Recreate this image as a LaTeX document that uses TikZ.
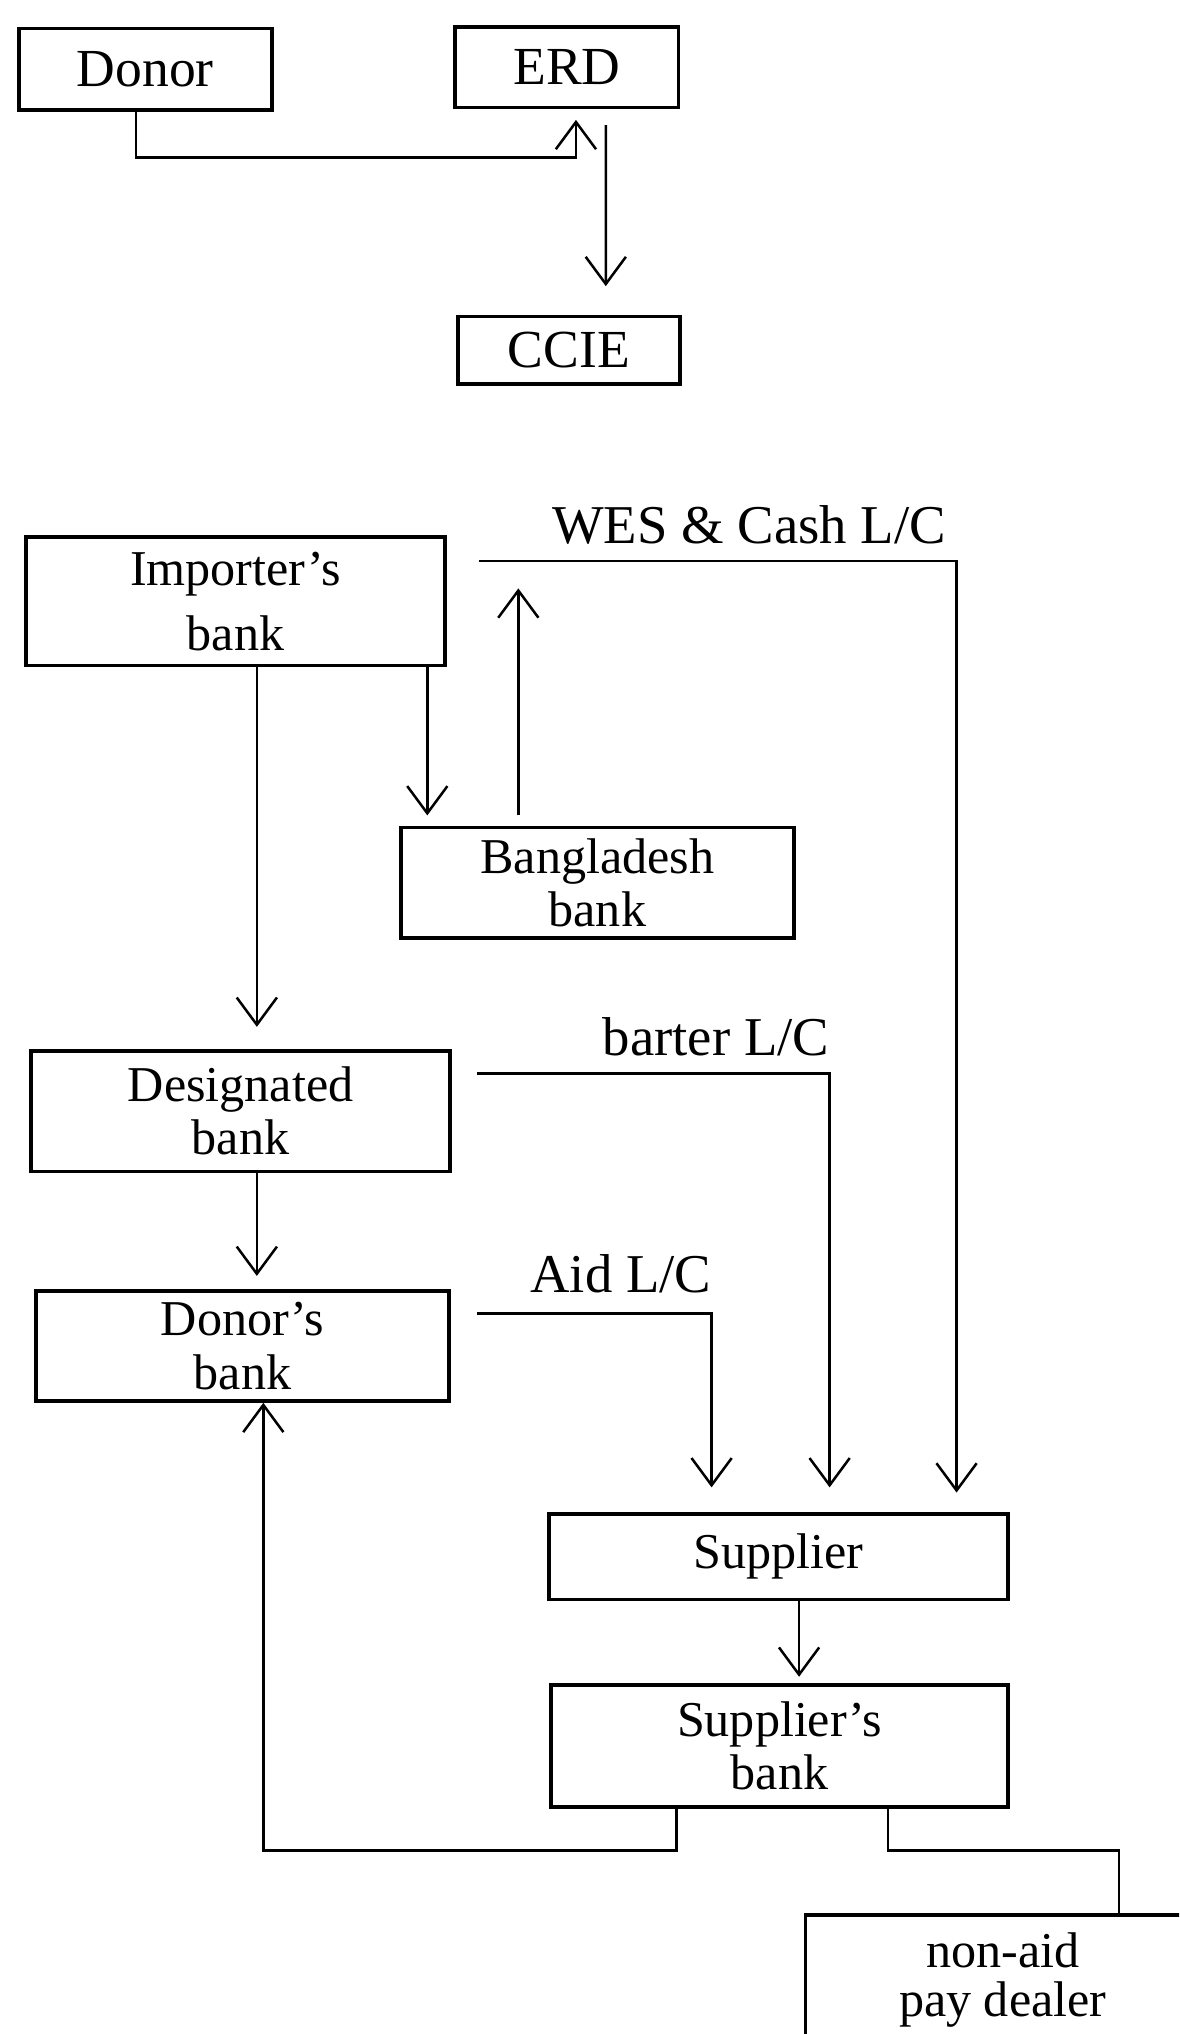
\documentclass[tikz,border=0pt]{standalone}
\usepackage{fontspec}
\setmainfont{Liberation Serif}
\usetikzlibrary{arrows.meta}

\tikzset{
  box/.style={draw, line width=1.6pt, align=center, inner sep=0pt, font=\fontsize{22}{23.5}\selectfont},
  big/.style={box, font=\fontsize{23.5}{25}\selectfont},
  lbl/.style={inner sep=0pt, font=\fontsize{24}{26}\selectfont},
  arr/.style={line width=1.1pt, -{Straight Barb[length=0.42cm, width=0.62cm]}},
  lin/.style={line width=1.1pt},
}

\begin{document}
\begin{tikzpicture}[x=0.02cm, y=-0.02cm]
    \useasboundingbox (0,0) rectangle (909,1568);
    \clip (0,0) rectangle (909,1568);

    % Caselle
    \foreach \nome/\stile/\x/\y/\w/\h/\testo in {
        donor/big/112/53.5/195/63/Donor,
        erd/big/437/52/172/62/ERD,
        ccie/big/438.5/270/171/52/CCIE,
        impbank/box/181.5/463.5/323/99/Importer's\\[5pt]bank,
        bdbank/box/460.5/680.5/303/85/Bangladesh\\bank,
        desbank/box/185.5/856.5/323/93/Designated\\bank,
        donbank/box/187/1037.5/318/85/Donor's\\bank,
        supp/box/600/1200/354/66/Supplier,
        suppbank/box/601/1346/352/94/Supplier's\\bank,
        nonaid/box/773/1526/304/100/non-aid\\[-2pt]pay dealer} {
            \node[\stile, minimum width=\w*0.02cm, minimum height=\h*0.02cm] (\nome) at (\x,\y) {\testo};
        }

    % Punti di appoggio
    \coordinate (wesa) at ([xshift=0.5cm, yshift=-0.4cm]impbank.north east);
    \coordinate (wesd) at ([xshift=-0.82cm]supp.north east);
    \coordinate (wesk) at (wesd |- wesa);
    \coordinate (bara) at ([xshift=0.38cm, yshift=-0.38cm]desbank.north east);
    \coordinate (bard) at ([xshift=4.36cm]supp.north west);
    \coordinate (bark) at (bard |- bara);
    \coordinate (aida) at ([xshift=0.4cm, yshift=-0.38cm]donbank.north east);
    \coordinate (aidd) at ([xshift=2.54cm]supp.north west);
    \coordinate (aidk) at (aidd |- aida);
    \coordinate (ib) at ([xshift=-0.3cm]impbank.south east);
    \coordinate (bb) at ([xshift=1.84cm]bdbank.north west);
    \coordinate (ia) at ([xshift=0.33cm]impbank.south);
    \coordinate (da) at ([xshift=0.25cm]desbank.south);
    \coordinate (sa) at ([xshift=0.32cm]supp.south);
    \coordinate (sd) at ([xshift=0.32cm]donbank.south);

    % Frecce
    \draw[arr, shorten >=0.16cm] ([xshift=-0.14cm]donor.south) -- ++(0,35) -| ([xshift=0.14cm]erd.south);
    \draw[arr, shorten <=0.24cm, shorten >=0.44cm] ([xshift=0.6cm]erd.south) -- ([xshift=0.57cm]ccie.north);
    \draw[arr, shorten >=0.16cm] (ib) -- (ib |- bdbank.north);
    \draw[arr, shorten <=0.16cm, shorten >=0.42cm] (bb) -- (bb |- wesa);
    \draw[arr, shorten >=0.3cm] (wesa) -- (wesk) -- (wesd);
    \draw[arr, shorten >=0.34cm] (ia) -- (ia |- desbank.north);
    \draw[arr, shorten >=0.38cm] (bara) -- (bark) -- (bard);
    \draw[arr, shorten >=0.2cm] (da) -- (da |- donbank.north);
    \draw[arr, shorten >=0.38cm] (aida) -- (aidk) -- (aidd);
    \draw[arr, shorten >=0.1cm] (sa) -- (sa |- suppbank.north);
    \draw[arr] ([xshift=1.96cm]suppbank.south west) -- ++(0,32) -| (sd);
    \draw[lin] ([xshift=5.22cm]suppbank.south west) -- ++(0,32) -| ([xshift=4.86cm]nonaid.north west);

    % Etichette
    \node[lbl, anchor=base east] (wesl) at ([xshift=-0.16cm, yshift=0.28cm]wesk) {WES \& Cash L/C};
    \node[lbl, anchor=base east] (barl) at ([yshift=0.28cm]bark) {barter L/C};
    \node[lbl, anchor=base east] (aidl) at ([yshift=0.32cm]aidk) {Aid L/C};
\end{tikzpicture}
\end{document}
